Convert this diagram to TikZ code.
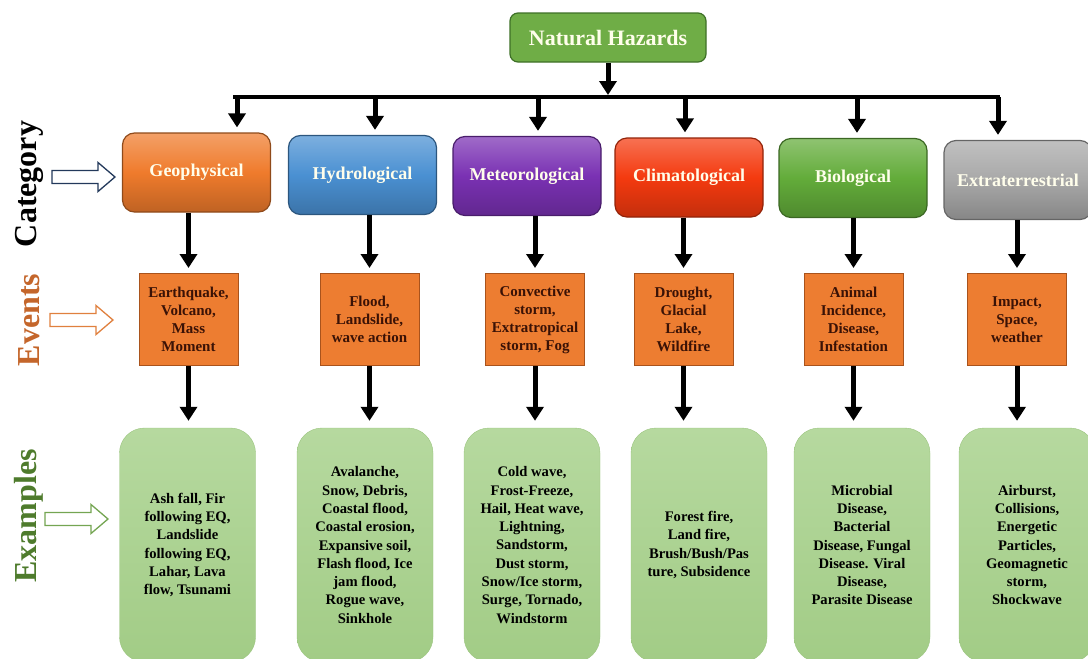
\documentclass[tikz,border=0pt]{standalone}
\usepackage{fontspec}
\setmainfont{Liberation Serif}
\usetikzlibrary{calc}
\usetikzlibrary{arrows.meta}

\definecolor{nhfill}{HTML}{6FAD46}
\definecolor{nhline}{HTML}{3E7027}
\definecolor{geocol}{HTML}{EF7B2C}
\definecolor{hydcol}{HTML}{4A90D2}
\definecolor{metcol}{HTML}{7A31B3}
\definecolor{clicol}{HTML}{F43A0F}
\definecolor{biocol}{HTML}{63AC3A}
\definecolor{extcol}{HTML}{A8A8A8}
\definecolor{evfill}{HTML}{ED7D31}
\definecolor{evline}{HTML}{A9531C}
\definecolor{evtext}{HTML}{3A1206}
\definecolor{exlight}{HTML}{B6D99F}
\definecolor{exdark}{HTML}{A2CC86}
\definecolor{exline}{HTML}{9BC47F}
\definecolor{lblev}{HTML}{C4662B}
\definecolor{lblex}{HTML}{4E7B2C}
\definecolor{arrcat}{HTML}{23395B}
\definecolor{arrev}{HTML}{E0803E}
\definecolor{arrex}{HTML}{74A552}

\begin{document}
\begin{tikzpicture}[x=1pt, y=-1pt,
 catbox/.style={rounded corners=12pt, minimum width=148pt, minimum height=79pt, inner sep=0pt,
   draw=#1!60!black, line width=1.2pt, top color=#1!72!white, bottom color=#1!80!black, middle color=#1,
   text=white!92!yellow, font=\bfseries\fontsize{18}{20}\selectfont},
 evbox/.style={draw=evline, fill=evfill, line width=1pt, minimum width=99pt, minimum height=92pt,
   inner sep=0pt, align=center, text=evtext, font=\bfseries\fontsize{15}{18}\selectfont},
 exbox/.style={rounded corners=25pt, minimum width=136pt, minimum height=234pt, inner sep=0pt,
   top color=exlight, bottom color=exdark, draw=exline, align=center,
   font=\bfseries\fontsize{14.6}{18.3}\selectfont},
 sidelbl/.style={rotate=90, font=\bfseries\fontsize{32}{32}\selectfont},
 hzarrow/.style={line width=5pt, -{Triangle[width=17pt,length=14pt]}, shorten >=5pt}]
\useasboundingbox (0,0) rectangle (1088,659);
\clip (0,0) rectangle (1088,659);

% top of the tree
\node[rounded corners=8pt, minimum width=196pt, minimum height=49pt, fill=nhfill, draw=nhline,
  line width=1.2pt, text=white!92!yellow, font=\bfseries\fontsize{22}{24}\selectfont] (nh) at (608,37.5) {Natural Hazards};
\coordinate (busL) at (233,97);
\coordinate (busR) at (1000,97);
\draw[line width=4pt] (busL) -- (busR);
\draw[hzarrow, shorten >=2pt] (nh.south) -- (nh.south |- busL);

% categories
\foreach \nm/\xc/\yc/\col/\txt in {geo/196.5/172.5/geocol/Geophysical, hyd/362.5/175/hydcol/Hydrological,
  met/527/176/metcol/Meteorological, cli/689/177.5/clicol/Climatological,
  bio/853/178/biocol/Biological, ext/1018/180/extcol/Extraterrestrial}
 \node[catbox=\col] (\nm) at (\xc,\yc) {\txt};

\foreach \nm/\xt in {geo/237, hyd/375, met/538, cli/685, bio/857, ext/998} {
 \coordinate (t\nm) at (\xt,97);
 \draw[hzarrow] (t\nm) -- (t\nm |- \nm.north);
}

% events
\foreach \nm/\xc/\txt in {geo/188.5/{Earthquake,\\Volcano,\\Mass\\Moment}, hyd/369.5/{Flood,\\Landslide,\\wave action},
  met/535/{Convective\\storm,\\Extratropical\\storm, Fog}, cli/683.5/{Drought,\\Glacial\\Lake,\\Wildfire},
  bio/853.5/{Animal\\Incidence,\\Disease,\\Infestation}, ext/1017/{Impact,\\Space,\\weather}}
 \node[evbox] (ev\nm) at (\xc,319.5) {\txt};

% examples
\foreach \nm/\xc/\txt in {geo/187.5/{Ash fall, Fir\\following EQ,\\Landslide\\following EQ,\\Lahar, Lava\\flow, Tsunami},
  hyd/365/{Avalanche,\\Snow, Debris,\\Coastal flood,\\Coastal erosion,\\Expansive soil,\\Flash flood, Ice\\jam flood,\\Rogue wave,\\Sinkhole},
  met/532/{Cold wave,\\Frost-Freeze,\\Hail, Heat wave,\\Lightning,\\Sandstorm,\\Dust storm,\\Snow/Ice storm,\\Surge, Tornado,\\Windstorm},
  cli/699/{Forest fire,\\Land fire,\\Brush/Bush/Pas\\ture, Subsidence},
  bio/862/{Microbial\\Disease,\\Bacterial\\Disease, Fungal\\Disease. Viral\\Disease,\\Parasite Disease},
  ext/1027/{Airburst,\\Collisions,\\Energetic\\Particles,\\Geomagnetic\\storm,\\Shockwave}}
 \node[exbox] (ex\nm) at (\xc,545) {\txt};

\foreach \nm in {geo,hyd,met,cli,bio,ext} {
 \draw[hzarrow] (\nm.south -| ev\nm.north) -- (ev\nm.north);
 \draw[hzarrow, shorten >=7pt] (ev\nm.south) -- (ev\nm.south |- ex\nm.north);
}

% side labels and hollow arrows
\node[sidelbl, text=black] (lblcat) at (29,184) {Category};
\node[sidelbl, text=lblev] (lblev) at (29,320) {Events};
\node[sidelbl, text=lblex] (lblex) at (29,516) {Examples};
\foreach \xa/\yc/\col in {52/177/arrcat, 50/320/arrev, 45/519/arrex}
 \draw[\col, line width=1.3pt, fill=white]
  (\xa,{\yc-6.5}) -- ++(46,0) -- ++(0,-8) -- ({\xa+63},\yc) -- ({\xa+46},{\yc+14.5})
  -- ++(0,-8) -- (\xa,{\yc+6.5}) -- cycle;
\end{tikzpicture}
\end{document}
